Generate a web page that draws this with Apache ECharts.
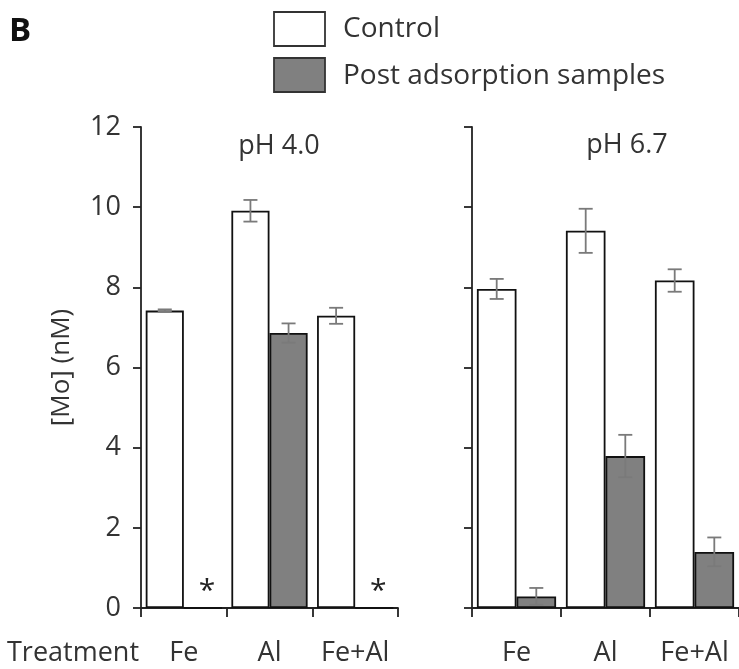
<!DOCTYPE html>
<html>
<head>
<meta charset="utf-8">
<script src="https://cdn.jsdelivr.net/npm/echarts@6/dist/echarts.min.js"></script>
<style>
  html, body { margin: 0; padding: 0; background: #fff; }
  #main { width: 739px; height: 669px; }
</style>
</head>
<body>
<div id="main"></div>
<script>
var treatments = ["Fe", "Al", "Fe+Al"];

// pH 4.0 panel
var ctrl40 = [7.42, 9.91, 7.29];
var ctrl40Err = [0.03, 0.27, 0.2];
var post40 = [0, 6.86, 0];        // Fe and Fe+Al not detected (*)
var post40Err = [0, 0.24, 0];

// pH 6.7 panel
var ctrl67 = [7.96, 9.41, 8.17];
var ctrl67Err = [0.25, 0.55, 0.28];
var post67 = [0.29, 3.79, 1.4];
var post67Err = [0.21, 0.53, 0.36];

var yTicks = [0, 2, 4, 6, 8, 10, 12];

var FONT = "Open Sans";
var TXT = "#333";
var chart = echarts.init(document.getElementById("main"));

function errData(ctrl, ce, post, pe) {
    var out = [];
    for (var i = 0; i < ctrl.length; i++) {
        out.push([i, ctrl[i], ce[i], 0]);
        if (pe[i] > 0) out.push([i, post[i], pe[i], 1]);
    }
    return out;
}

function renderErr(params, api) {
    var i = api.value(0), v = api.value(1), e = api.value(2), s = api.value(3);
    var cw = api.size([1, 0])[0];
    var c = api.coord([i, v]);
    var x = c[0] + (s === 0 ? -1 : 1) * 0.2225 * cw;
    var top = api.coord([i, v + e])[1], bot = api.coord([i, v - e])[1];
    var hw = 7;
    var st = { stroke: "#7a7a7a", lineWidth: 1.8 };
    return {
        type: "group",
        children: [
            { type: "line", shape: { x1: x, y1: top, x2: x, y2: bot }, style: st },
            { type: "line", shape: { x1: x - hw, y1: top, x2: x + hw, y2: top }, style: st },
            { type: "line", shape: { x1: x - hw, y1: bot, x2: x + hw, y2: bot }, style: st }
        ]
    };
}

var ctrlStyle = { color: "#fff", borderColor: "#111", borderWidth: 1.8 };
var postStyle = { color: "#808080", borderColor: "#111", borderWidth: 1.8 };

function xAxis(idx) {
    return {
        type: "category", gridIndex: idx, data: treatments,
        axisLine: { lineStyle: { color: "#222", width: 1.8 } },
        axisTick: { show: true, interval: 0, length: 9, lineStyle: { color: "#222", width: 1.8 } },
        axisLabel: { fontFamily: FONT, fontSize: 27, color: TXT, margin: 32, interval: 0 }
    };
}

function yAxis(idx, showLabels) {
    return {
        type: "value", gridIndex: idx, min: 0, max: 12, interval: 2,
        splitLine: { show: false },
        axisLine: { show: true, lineStyle: { color: "#222", width: 1.8 } },
        axisTick: { show: true, length: 8, lineStyle: { color: "#222", width: 1.8 } },
        axisLabel: {
            show: showLabels, fontFamily: FONT, fontSize: 27, color: TXT, margin: 20,
            formatter: function (v) { return yTicks.indexOf(v) >= 0 ? String(v) : ""; }
        },
        name: showLabels ? "[Mo] (nM)" : "",
        nameLocation: "middle", nameRotate: 90, nameGap: 66,
        nameTextStyle: { fontFamily: FONT, fontSize: 26, color: TXT }
    };
}

var star = { show: true, position: "top", distance: 1, offset: [4, 0], formatter: "*", fontSize: 30, color: "#222", fontFamily: FONT };

function postData(vals) {
    return vals.map(function (v) {
        return v === 0 ? { value: 0, label: star } : v;
    });
}

var legendNames = ["Control", "Post adsorption samples"];

var option = {
    animation: false,
    backgroundColor: "#fff",
    grid: [
        { left: 141, width: 257, top: 127, height: 481 },
        { left: 472, width: 272, top: 127, height: 481 }
    ],
    xAxis: [xAxis(0), xAxis(1)],
    yAxis: [yAxis(0, true), yAxis(1, false)],
    graphic: [
        { type: "text", left: 9, top: 15, style: { text: "B", font: "bold 33px " + FONT, fill: "#111" } },
        { type: "rect", shape: { x: 274, y: 12, width: 51, height: 34 }, style: { fill: "#fff", stroke: "#333", lineWidth: 1.8 } },
        { type: "rect", shape: { x: 274, y: 58, width: 51, height: 34 }, style: { fill: "#808080", stroke: "#333", lineWidth: 1.8 } },
        { type: "text", x: 343, y: 29, style: { text: legendNames[0], font: "28px " + FONT, fill: TXT, textVerticalAlign: "middle" } },
        { type: "text", x: 343, y: 76, style: { text: legendNames[1], font: "28px " + FONT, fill: TXT, textVerticalAlign: "middle" } },
        { type: "text", x: 7, y: 653, style: { text: "Treatment", font: "27px " + FONT, fill: TXT, textVerticalAlign: "middle" } },
        { type: "text", x: 279, y: 146, style: { text: "pH 4.0", font: "27px " + FONT, fill: TXT, textAlign: "center", textVerticalAlign: "middle" } },
        { type: "text", x: 627, y: 145, style: { text: "pH 6.7", font: "27px " + FONT, fill: TXT, textAlign: "center", textVerticalAlign: "middle" } }
    ],
    series: [
        { name: legendNames[0], type: "bar", xAxisIndex: 0, yAxisIndex: 0, data: ctrl40, itemStyle: ctrlStyle, barGap: "0%", barCategoryGap: "11%" },
        { name: legendNames[1], type: "bar", xAxisIndex: 0, yAxisIndex: 0, data: postData(post40), itemStyle: postStyle, barGap: "0%", barCategoryGap: "11%" },
        { name: legendNames[0], type: "bar", xAxisIndex: 1, yAxisIndex: 1, data: ctrl67, itemStyle: ctrlStyle, barGap: "0%", barCategoryGap: "11%" },
        { name: legendNames[1], type: "bar", xAxisIndex: 1, yAxisIndex: 1, data: post67, itemStyle: postStyle, barGap: "0%", barCategoryGap: "11%" },
        { type: "custom", xAxisIndex: 0, yAxisIndex: 0, renderItem: renderErr, data: errData(ctrl40, ctrl40Err, post40, post40Err), z: 5 },
        { type: "custom", xAxisIndex: 1, yAxisIndex: 1, renderItem: renderErr, data: errData(ctrl67, ctrl67Err, post67, post67Err), z: 5 }
    ]
};

chart.setOption(option);
</script>
</body>
</html>
